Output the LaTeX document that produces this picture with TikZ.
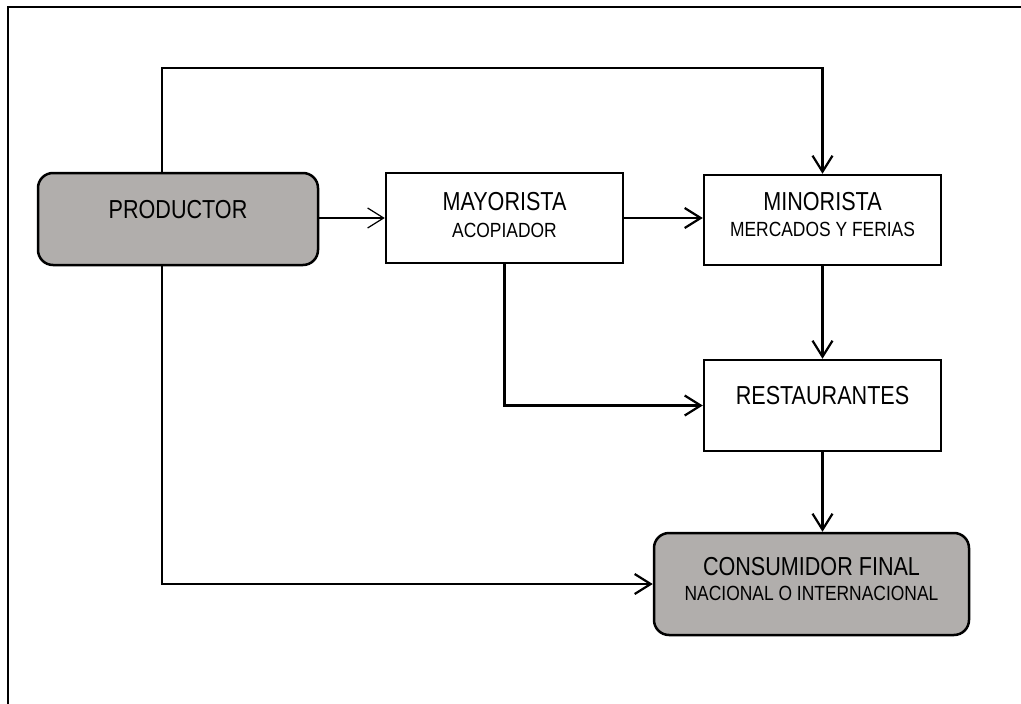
\documentclass[tikz,border=0pt]{standalone}
\usepackage{fontspec}
\setmainfont[FakeStretch=0.83]{Liberation Sans}
\newfontfamily\subfont[FakeStretch=0.85]{Liberation Sans}
\usetikzlibrary{arrows.meta}
\definecolor{boxgray}{RGB}{177,174,172}
\begin{document}
\begin{tikzpicture}[x=1pt,y=-1pt,
  box/.style={draw, line width=2.5pt, minimum width=237pt, minimum height=90pt, inner sep=0pt},
  endbox/.style={box, fill=boxgray, rounded corners=15pt},
  big/.style={font=\fontsize{26}{30}\selectfont, inner sep=0pt, anchor=base},
  small/.style={font=\subfont\fontsize{20.5}{24}\selectfont, inner sep=0pt, anchor=base},
  link/.style={line width=2.2pt, -{Straight Barb[length=16pt,width=20pt,line width=2.2pt]}},
  thinlink/.style={line width=1.2pt, -{Straight Barb[length=16pt,width=20pt,line width=1.2pt]}}]
  \useasboundingbox (0,0) rectangle (1021,704);
  % outer frame (top and left edges)
  \draw[line width=1.8pt] (8,704) -- (8,7) -- (1021,7);

  % boxes
  \node[endbox, minimum width=280pt, minimum height=92pt] (prod) at (178,219) {};
  \node[box] (mayo) at (504.5,218) {};
  \node[box] (mino) at (822.5,220) {};
  \node[box, minimum height=91pt] (rest) at (822.5,405.5) {};
  \node[endbox, minimum width=315pt, minimum height=102pt] (cons) at (811.5,584) {};

  % labels
  \node[big] (prodt) at (178,218) {PRODUCTOR};
  \node[big] (mayot) at (504.5,210) {MAYORISTA};
  \node[small] (mayos) at (504.5,237) {ACOPIADOR};
  \node[big] (minot) at (822.5,210.5) {MINORISTA};
  \node[small] (minos) at (822.5,236.5) {MERCADOS Y FERIAS};
  \node[big] (restt) at (822.5,404) {RESTAURANTES};
  \node[big] (const) at (811.5,575) {CONSUMIDOR FINAL};
  \node[small] (conss) at (811.5,600.5) {NACIONAL O INTERNACIONAL};

  % connectors
  \draw[link] ([xshift=-16pt]prod.north) -- ++(0,-104) -| (mino.north);
  \draw[thinlink] (prod.east |- mayo.west) -- (mayo.west);
  \draw[link] (mayo.east) -- (mayo.east -| mino.west);
  \draw[link] (mayo.south) |- (rest.west);
  \draw[link] (mino.south) -- (rest.north);
  \draw[link] (rest.south) -- (rest.south |- cons.north);
  \draw[link] ([xshift=-16pt]prod.south) |- (cons.west);
\end{tikzpicture}
\end{document}
